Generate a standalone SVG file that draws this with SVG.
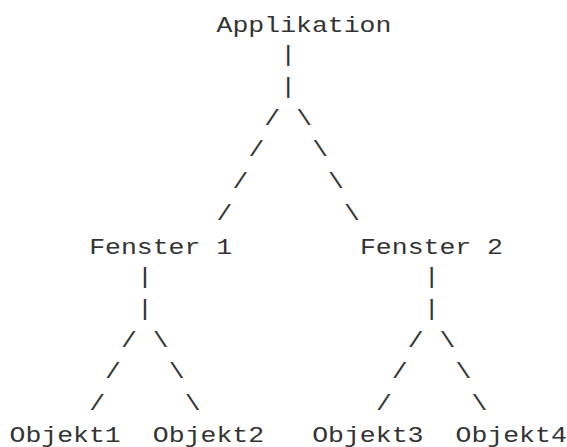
<svg xmlns="http://www.w3.org/2000/svg" width="567" height="447" viewBox="0 0 567 447">
<style>
text{font-family:"Liberation Mono",monospace;font-size:26.5px;fill:#333;}
</style>
<rect width="567" height="447" fill="#fff"/>
<g transform="matrix(1 0 0 0.82 0 0)">
<g id="applikation"><text x="216.59" y="38.66">Applikation</text></g>
<g id="fenster1"><text x="89.15" y="309.27">Fenster 1</text></g>
<g id="fenster2"><text x="359.96" y="309.27">Fenster 2</text></g>
<g id="objekt1"><text x="9.5" y="538.6">Objekt1</text></g>
<g id="objekt2"><text x="152.87" y="538.6">Objekt2</text></g>
<g id="objekt3"><text x="312.17" y="538.6">Objekt3</text></g>
<g id="objekt4"><text x="455.54" y="538.6">Objekt4</text></g>
</g>
<g id="connectors" transform="matrix(1 0 0 0.82 0 -2)">
<text x="280.31" y="77.32">|</text>
<text x="280.31" y="115.98">|</text>
<text x="264.38" y="154.63">/</text><text x="296.24" y="154.63">\</text>
<text x="248.45" y="193.29">/</text><text x="312.17" y="193.29">\</text>
<text x="232.52" y="231.95">/</text><text x="328.1" y="231.95">\</text>
<text x="216.59" y="270.61">/</text><text x="344.03" y="270.61">\</text>
<text x="136.94" y="347.93">|</text><text x="423.68" y="347.93">|</text>
<text x="136.94" y="386.59">|</text><text x="423.68" y="386.59">|</text>
<text x="121.01" y="425.24">/</text><text x="152.87" y="425.24">\</text>
<text x="407.75" y="425.24">/</text><text x="439.61" y="425.24">\</text>
<text x="105.08" y="463.9">/</text><text x="168.8" y="463.9">\</text>
<text x="391.82" y="463.9">/</text><text x="455.54" y="463.9">\</text>
<text x="89.15" y="502.56">/</text><text x="184.73" y="502.56">\</text>
<text x="375.89" y="502.56">/</text><text x="471.47" y="502.56">\</text>
</g>
</svg>
